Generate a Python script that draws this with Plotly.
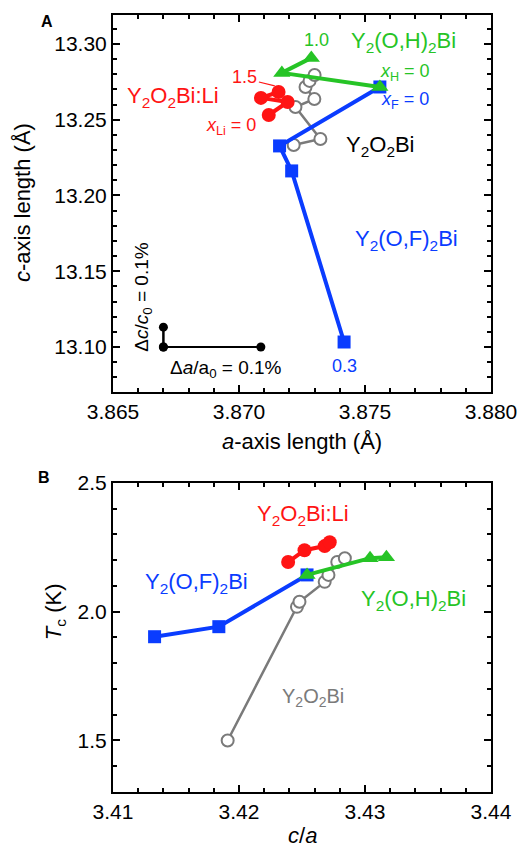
import plotly.graph_objects as go

# ---------------- Panel A data: lattice parameters ----------------
a_F = [3.87417, 3.87209, 3.87161, 3.87559]
c_F = [13.1033, 13.2162, 13.2327, 13.2716]

a_H = [3.87559, 3.87170, 3.87287]
c_H = [13.2716, 13.2809, 13.2908]

a_Li = [3.87118, 3.87193, 3.87087, 3.87157]
c_Li = [13.2531, 13.2617, 13.2644, 13.2683]

a_00 = [3.87217, 3.87323, 3.87224, 3.87299, 3.87264, 3.87280, 3.87300]
c_00 = [13.2333, 13.2373, 13.2584, 13.2637, 13.2716, 13.2756, 13.2795]

# scale bar (0.1 %)
a0, c0, pct = 3.867, 13.10, 0.001

# ---------------- Panel B data: Tc vs c/a ----------------
ca_F = [3.4133, 3.4184, 3.4254]
tc_F = [1.903, 1.942, 2.143]

ca_H = [3.4254, 3.4304, 3.4317]
tc_H = [2.143, 2.208, 2.212]

ca_Li = [3.4239, 3.4252, 3.4268, 3.4272]
tc_Li = [2.193, 2.239, 2.255, 2.270]

ca_00 = [3.4191, 3.4246, 3.4248, 3.4268, 3.4271, 3.4278, 3.4284]
tc_00 = [1.500, 2.019, 2.039, 2.116, 2.143, 2.193, 2.208]

BLUE = "#0A3CFF"
RED = "#FF1414"
GREEN = "#26C426"
GRAY = "#7A7A7A"
FONT = "Arial, Liberation Sans, sans-serif"

fig = go.Figure()

# ----- Panel A traces -----
fig.add_trace(go.Scatter(x=a_00, y=c_00, mode="lines+markers", xaxis="x", yaxis="y",
                         line=dict(color=GRAY, width=2.5),
                         marker=dict(symbol="circle", size=12, color="white",
                                     line=dict(color=GRAY, width=2))))
fig.add_trace(go.Scatter(x=a_F, y=c_F, mode="lines+markers", xaxis="x", yaxis="y",
                         line=dict(color=BLUE, width=4),
                         marker=dict(symbol="square", size=13, color=BLUE)))
fig.add_trace(go.Scatter(x=a_Li, y=c_Li, mode="lines+markers", xaxis="x", yaxis="y",
                         line=dict(color=RED, width=4),
                         marker=dict(symbol="circle", size=14, color=RED)))
fig.add_trace(go.Scatter(x=a_H, y=c_H, mode="lines+markers", xaxis="x", yaxis="y",
                         line=dict(color=GREEN, width=4),
                         marker=dict(symbol="triangle-up", size=15, color=GREEN)))
# scale bars
fig.add_trace(go.Scatter(x=[a0, a0 * (1 + pct)], y=[c0, c0], mode="lines+markers",
                         xaxis="x", yaxis="y", line=dict(color="black", width=2),
                         marker=dict(size=9, color="black")))
fig.add_trace(go.Scatter(x=[a0, a0], y=[c0, c0 * (1 + pct)], mode="lines+markers",
                         xaxis="x", yaxis="y", line=dict(color="black", width=2.5),
                         marker=dict(size=9, color="black")))

# ----- Panel B traces -----
fig.add_trace(go.Scatter(x=ca_00, y=tc_00, mode="lines+markers", xaxis="x2", yaxis="y2",
                         line=dict(color=GRAY, width=2.5),
                         marker=dict(symbol="circle", size=12, color="white",
                                     line=dict(color=GRAY, width=2))))
fig.add_trace(go.Scatter(x=ca_F, y=tc_F, mode="lines+markers", xaxis="x2", yaxis="y2",
                         line=dict(color=BLUE, width=4),
                         marker=dict(symbol="square", size=13, color=BLUE)))
fig.add_trace(go.Scatter(x=ca_Li, y=tc_Li, mode="lines+markers", xaxis="x2", yaxis="y2",
                         line=dict(color=RED, width=4),
                         marker=dict(symbol="circle", size=14, color=RED)))
fig.add_trace(go.Scatter(x=ca_H, y=tc_H, mode="lines+markers", xaxis="x2", yaxis="y2",
                         line=dict(color=GREEN, width=4),
                         marker=dict(symbol="triangle-up", size=15, color=GREEN)))

axis_common = dict(showline=True, linecolor="black", linewidth=2, mirror="ticks",
                   ticks="inside", ticklen=7, tickwidth=1.5, tickcolor="black",
                   showgrid=False, zeroline=False,
                   tickfont=dict(family=FONT, size=21, color="black"))

fig.update_layout(
    width=522, height=849, showlegend=False,
    paper_bgcolor="white", plot_bgcolor="white",
    margin=dict(l=113, r=31, t=15, b=57, autoexpand=False),
    font=dict(family=FONT, color="black"),
    xaxis=dict(domain=[0, 1], anchor="y", range=[3.865, 3.880], dtick=0.005,
               tick0=3.865, tickformat=".3f",
               minor=dict(dtick=0.001, ticks="inside", ticklen=4, tickcolor="black"),
               **axis_common),
    yaxis=dict(domain=[0.5148, 1], anchor="x", range=[13.0703, 13.3191], dtick=0.05,
               tick0=13.10, tickformat=".2f",
               minor=dict(dtick=0.01, ticks="inside", ticklen=4, tickcolor="black"),
               **axis_common),
    xaxis2=dict(domain=[0, 1], anchor="y2", range=[3.41, 3.44], dtick=0.01,
                tick0=3.41, tickformat=".2f",
                minor=dict(dtick=0.002, ticks="inside", ticklen=4, tickcolor="black"),
                **axis_common),
    yaxis2=dict(domain=[0, 0.3977], anchor="x2", range=[1.3, 2.5], dtick=0.5,
                tick0=1.5, tickformat=".1f",
                minor=dict(dtick=0.1, ticks="inside", ticklen=4, tickcolor="black"),
                **axis_common),
)

def txt(x, y, s, color, size, xref="x", yref="y", angle=0, **kw):
    fig.add_annotation(x=x, y=y, xref=xref, yref=yref, text=s, showarrow=False,
                       textangle=angle, font=dict(family=FONT, size=size, color=color),
                       xanchor="center", yanchor="middle", **kw)

# Panel A labels
txt(3.87307, 13.3026, "1.0", GREEN, 18)
txt(3.87652, 13.3013, "Y<sub>2</sub>(O,H)<sub>2</sub>Bi", GREEN, 22)
txt(3.8702, 13.2782, "1.5", RED, 18)
txt(3.8674, 13.265, "Y<sub>2</sub>O<sub>2</sub>Bi:Li", RED, 22)
txt(3.86968, 13.2452, "<i>x</i><sub>Li</sub> = 0", RED, 18)
txt(3.8766, 13.2809, "<i>x</i><sub>H</sub> = 0", GREEN, 18)
txt(3.8766, 13.2624, "<i>x</i><sub>F</sub> = 0", BLUE, 18)
txt(3.87563, 13.2327, "Y<sub>2</sub>O<sub>2</sub>Bi", "black", 22)
txt(3.87665, 13.1706, "Y<sub>2</sub>(O,F)<sub>2</sub>Bi", BLUE, 22)
txt(3.87417, 13.0875, "0.3", BLUE, 18)
txt(3.86618, 13.133, "Δ<i>c</i>/<i>c</i><sub>0</sub> = 0.1%", "black", 19, angle=-90)
txt(3.86949, 13.0855, "Δ<i>a</i>/a<sub>0</sub> = 0.1%", "black", 19)
fig.add_shape(type="line", xref="x", yref="y", x0=3.87079, y0=13.2749, x1=3.87142,
              y1=13.2723, line=dict(color=RED, width=1.2))

# Panel B labels
txt(3.42508, 2.3745, "Y<sub>2</sub>O<sub>2</sub>Bi:Li", RED, 22, xref="x2", yref="y2")
txt(3.41659, 2.112, "Y<sub>2</sub>(O,F)<sub>2</sub>Bi", BLUE, 22, xref="x2", yref="y2")
txt(3.43381, 2.046, "Y<sub>2</sub>(O,H)<sub>2</sub>Bi", GREEN, 22, xref="x2", yref="y2")
txt(3.42587, 1.668, "Y<sub>2</sub>O<sub>2</sub>Bi", GRAY, 20, xref="x2", yref="y2")

# axis titles and panel letters
txt(0.5, 0.4505, "<i>a</i>-axis length (Å)", "black", 22, xref="paper", yref="paper")
txt(-0.2407, 0.758, "<i>c</i>-axis length (Å)", "black", 22, xref="paper", yref="paper", angle=-90)
txt(0.502, -0.0566, "<i>c</i>/<i>a</i>", "black", 22, xref="paper", yref="paper")
txt(-0.153, 0.2317, "<i>T</i><sub>c</sub> (K)", "black", 22, xref="paper", yref="paper", angle=-90)
txt(-0.1746, 0.991, "<b>A</b>", "black", 16, xref="paper", yref="paper")
txt(-0.1825, 0.4054, "<b>B</b>", "black", 16, xref="paper", yref="paper")

fig.write_html("out.html")
